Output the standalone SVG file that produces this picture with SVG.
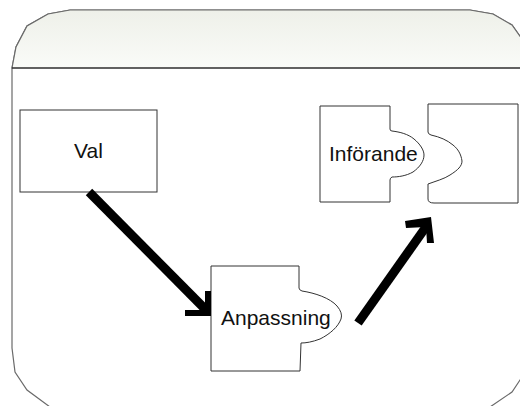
<svg xmlns="http://www.w3.org/2000/svg" width="520" height="406" viewBox="0 0 520 406">
  <defs>
    <linearGradient id="headFill" x1="0" y1="0" x2="0" y2="1">
      <stop offset="0" stop-color="#eef0e9"/>
      <stop offset="1" stop-color="#fafbf8"/>
    </linearGradient>
    <style>
      .frame { fill: #ffffff; stroke: #6a6a6a; stroke-width: 1.2; }
      .head { fill: url(#headFill); stroke: #6a6a6a; stroke-width: 1.2; }
      .divider { stroke: #111111; stroke-width: 1.2; }
      .shape { fill: #ffffff; stroke: #333333; stroke-width: 1; }
      .label { font-family: "Liberation Sans", Arial, sans-serif; font-size: 21px; fill: #111111; }
      .shaft { stroke: #000000; stroke-width: 9; stroke-linecap: butt; fill: none; }
      .head-mark { fill: #000000; }
    </style>
  </defs>

  <!-- outer rounded panel -->
  <g id="panel">
    <path class="frame" d="M12,68 L16,47 L27,26 L48,14 L70,10 L470,10 L493,14 L512,25 L524,42 L524,374 L512,392 L490,407 L50,407 L27,390 L15,372 L12,348 Z"/>
    <path class="head" d="M12,68 L16,47 L27,26 L48,14 L70,10 L470,10 L493,14 L512,25 L524,42 L524,68 Z"/>
    <line class="divider" x1="12" y1="68" x2="524" y2="68"/>
  </g>

  <!-- Val -->
  <g id="val">
    <rect class="shape" x="20" y="110" width="137" height="82"/>
    <text class="label" x="88.5" y="158" text-anchor="middle">Val</text>
  </g>

  <!-- Anpassning: puzzle piece with a tab on the right -->
  <g id="anpassning">
    <path class="shape" d="M211,266 L299,266 L299,288 Q299,290 302,291 C315,293 330,298 337,306 Q343,313 341,319 C338,327 330,334 320,339 C312,342 306,343 301,343 L300,371 L211,371 Z"/>
    <text class="label" x="221" y="325">Anpassning</text>
  </g>

  <!-- Införande: puzzle piece with a tab on the right -->
  <g id="inforande">
    <path class="shape" d="M320,106 L390,106 L390,129 Q390,131 392,131 C400,132 408,134 414,139 C420,144 424,150 424,155 C424,161 420,167 413,172 C406,176 398,177 392,177 Q390,178 390,180 L390,202 L320,202 Z"/>
    <text class="label" x="329" y="161">Införande</text>
  </g>

  <!-- matching piece with a socket on the left -->
  <g id="inforande-mate">
    <path class="shape" d="M428,104 L518,104 L518,203 L434,203 Q428,203 428,199 L428,184 C436,181 444,179 450,175 C458,170 462,166 462,161 C461,154 458,149 453,145 C447,140 440,137 431,135 Q428,134 428,132 Z"/>
  </g>

  <!-- connectors -->
  <g id="connectors">
    <line class="shaft" x1="89" y1="192" x2="207" y2="311"/>
    <polygon class="head-mark" points="205,291 211,291 211,316 185,316 185,310 205,310"/>
    <line class="shaft" x1="358" y1="323" x2="428" y2="224"/>
    <polygon class="head-mark" points="405,221 431,217 434,243 427,243 426,227 406,228"/>
  </g>
</svg>
